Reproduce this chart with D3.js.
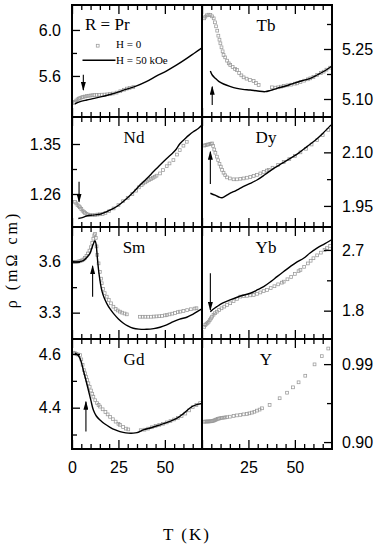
<!DOCTYPE html>
<html>
<head>
<meta charset="utf-8">
<script src="https://cdn.jsdelivr.net/npm/d3@7"></script>
<style>
  body { margin: 0; background: #fff; }
</style>
</head>
<body>
<div id="chart"></div>
<script>
'use strict';

// panel names, left column then right column, row by row
var panelNames = ['Pr', 'Tb', 'Nd', 'Dy', 'Sm', 'Yb', 'Gd', 'Y'];
var panelLabels = ['R = Pr', 'Tb', 'Nd', 'Dy', 'Sm', 'Yb', 'Gd', 'Y'];

var yDomains = [[5.243, 6.217], [5.046, 5.382], [1.2006, 1.3986], [1.891, 2.199],
  [3.145, 3.804], [1.38, 3.04], [4.246, 4.656], [0.892, 1.019]];
var majorTicks = [[5.6, 6.0], [5.10, 5.25], [1.26, 1.35], [1.95, 2.10],
  [3.3, 3.6], [1.8, 2.7], [4.4, 4.6], [0.90, 0.99]];
var minorTicks = [[5.8], [5.175, 5.325], [1.305], [2.025],
  [3.45], [2.25], [4.3, 4.5], [0.945]];
var tickFormats = ['.1f', '.2f', '.2f', '.2f', '.1f', '.1f', '.1f', '.2f'];

var tMajor = [0, 25, 50];
var tMinor = [5, 10, 15, 20, 30, 35, 40, 45, 55, 60, 65];
var tLabelsLeft = [0, 25, 50];
var tLabelsRight = [25, 50];

// H = 0 points and H = 50 kOe curves, [T (K), rho]
var prH0 = [[1.0, 5.365], [1.6, 5.374], [2.3, 5.386], [3, 5.396], [3.7, 5.403], [4.4, 5.408], [5.2, 5.413],
  [6, 5.417], [7, 5.421], [8, 5.425], [9, 5.428], [10, 5.43], [11, 5.432], [12, 5.434], [13.3, 5.435],
  [14.5, 5.436], [16, 5.437], [17.5, 5.438], [19, 5.44], [20.5, 5.443], [22, 5.447], [24, 5.455],
  [26, 5.467], [28, 5.48], [29.5, 5.49], [31, 5.496], [33, 5.503]];
var prH50 = [[1.6, 5.357], [4, 5.375], [7.9, 5.391], [12, 5.405], [16, 5.42], [20, 5.437], [24, 5.455],
  [29, 5.483], [34.8, 5.513], [40, 5.55], [45.6, 5.60], [51, 5.645], [56.4, 5.696], [62, 5.755],
  [66, 5.80], [70, 5.845]];

var tbH0 = [[1.2, 5.342], [1.8, 5.347], [2.6, 5.351], [3.5, 5.353], [4.5, 5.352], [5.4, 5.348], [6.3, 5.342],
  [7, 5.33], [7.6, 5.318], [8.2, 5.305], [8.8, 5.29], [9.4, 5.278], [9.9, 5.267], [10.5, 5.255],
  [11.1, 5.243], [11.6, 5.232], [12.5, 5.225], [13.5, 5.215], [14.4, 5.207], [15.2, 5.202],
  [16.5, 5.196], [17.8, 5.19], [18.8, 5.187], [20, 5.178], [21.2, 5.171], [22.4, 5.165], [24, 5.161],
  [25.8, 5.157], [27.8, 5.154], [29, 5.148], [30.5, 5.142], [37.7, 5.135], [39.5, 5.134], [41, 5.135],
  [42.5, 5.137], [44, 5.139], [46, 5.141], [48, 5.143], [50, 5.146], [51.2, 5.147], [53, 5.151],
  [55, 5.155], [57, 5.159], [58.3, 5.162], [60, 5.166], [62, 5.172], [64, 5.178], [65.5, 5.182],
  [67, 5.188], [69, 5.194]];
var tbH50 = [[4.5, 5.184], [5.5, 5.172], [7.2, 5.162], [9, 5.153], [11.6, 5.145], [15, 5.138], [18.8, 5.132],
  [22, 5.129], [26, 5.127], [30, 5.124], [34, 5.122], [37, 5.126], [40.4, 5.132], [45, 5.139],
  [49.3, 5.147], [54, 5.155], [58.3, 5.162], [62, 5.172], [66, 5.184], [70, 5.199]];

var ndH0 = [[1.6, 1.246], [2.3, 1.243], [3, 1.24], [3.7, 1.238], [4.3, 1.236], [5, 1.233], [5.7, 1.23],
  [6.4, 1.228], [7, 1.226], [7.8, 1.224], [8.7, 1.223], [9.7, 1.222], [11, 1.222], [12.4, 1.222],
  [13.7, 1.223], [15, 1.2235], [16.5, 1.224], [18, 1.226], [20, 1.229], [22.4, 1.234], [25, 1.24],
  [27.5, 1.247], [30, 1.253], [32.5, 1.26], [34.5, 1.266], [36, 1.272], [37.5, 1.276], [38.4, 1.279],
  [39.5, 1.281], [40.5, 1.283], [41.5, 1.285], [42.5, 1.287], [43.5, 1.289], [44.5, 1.291],
  [45.5, 1.293], [47.4, 1.297], [49, 1.303], [51, 1.31], [52.5, 1.315], [54.6, 1.321], [56.5, 1.331],
  [58, 1.339], [60, 1.347], [61.8, 1.354]];
var ndH50 = [[3.4, 1.216], [5, 1.217], [7.9, 1.2204], [11, 1.222], [15, 1.2235], [18.5, 1.228], [22.4, 1.234],
  [26, 1.242], [29.5, 1.252], [33, 1.263], [36.6, 1.276], [40, 1.287], [43.8, 1.300], [47, 1.311],
  [51, 1.324], [54, 1.333], [56, 1.340], [58.2, 1.351], [61, 1.36], [63, 1.366], [65.3, 1.372],
  [68, 1.378], [70, 1.384]];

var dyH0 = [[1.2, 2.119], [1.8, 2.12], [2.5, 2.121], [3.2, 2.122], [4, 2.123], [4.7, 2.124], [5.4, 2.125],
  [6, 2.118], [6.6, 2.108], [7.2, 2.099], [8, 2.088], [8.7, 2.078], [9.4, 2.068], [10.1, 2.06],
  [10.8, 2.051], [11.6, 2.043], [12.5, 2.036], [13.5, 2.03], [15, 2.027], [17, 2.0245], [18.8, 2.0245],
  [20.6, 2.026], [22.4, 2.027], [24.2, 2.029], [26, 2.031], [27.8, 2.034], [29.6, 2.037], [31.4, 2.041],
  [33.2, 2.045], [35, 2.049], [35.9, 2.051], [38, 2.057], [41, 2.065], [44, 2.073], [47, 2.081],
  [50, 2.09], [53, 2.1], [56, 2.11], [59, 2.122], [62, 2.134], [65, 2.148], [68, 2.163]];
var dyH50 = [[4.5, 1.9855], [7, 1.98], [9, 1.975], [10.8, 1.973], [13, 1.979], [15, 1.985], [17, 1.990],
  [20, 1.998], [23, 2.006], [26, 2.013], [29.6, 2.0226], [34, 2.038], [38.6, 2.055], [43, 2.069],
  [47.5, 2.083], [52, 2.098], [56.5, 2.116], [61, 2.134], [65, 2.153], [69.5, 2.177]];

var smH0 = [[0.8, 3.598], [1.5, 3.598], [2.2, 3.599], [3, 3.6], [3.8, 3.602], [4.6, 3.604], [5.4, 3.608],
  [6.2, 3.613], [7, 3.622], [7.8, 3.634], [8.6, 3.648], [9.4, 3.665], [10.2, 3.685], [10.9, 3.71],
  [11.5, 3.735], [12, 3.755], [12.4, 3.763], [12.8, 3.74], [13.2, 3.69], [13.6, 3.64], [14.3, 3.59],
  [15, 3.54], [15.6, 3.5], [16, 3.473], [16.8, 3.44], [17.6, 3.415], [18.7, 3.394], [19.8, 3.375],
  [21, 3.355], [22.3, 3.335], [23.5, 3.322], [24.6, 3.313], [25.8, 3.306], [27, 3.3], [28.3, 3.295],
  [29.5, 3.29], [36.6, 3.276], [38, 3.276], [39.5, 3.276], [41, 3.276], [42.5, 3.276], [44, 3.277],
  [45.5, 3.278], [47, 3.279], [48.5, 3.281], [50, 3.284], [51, 3.286], [52.5, 3.29], [54, 3.294],
  [55.5, 3.298], [57, 3.303], [58.2, 3.306], [60, 3.31], [62, 3.315], [64, 3.32], [66, 3.324], [67, 3.326]];
var smH50 = [[0.5, 3.60], [3, 3.599], [6.1, 3.606], [8, 3.625], [9.7, 3.649], [11, 3.69], [12.4, 3.724],
  [13, 3.70], [13.6, 3.63], [14.3, 3.551], [15.2, 3.48], [16, 3.433], [17.2, 3.39], [18.7, 3.355],
  [20.5, 3.322], [22.3, 3.296], [25, 3.263], [27.7, 3.238], [30, 3.222], [33, 3.208], [36, 3.203],
  [40.2, 3.202], [44, 3.206], [47.4, 3.214], [51, 3.228], [54.6, 3.247], [58, 3.262], [61.8, 3.273],
  [65, 3.29], [69, 3.316], [70, 3.322]];

var ybH0 = [[1.2, 1.56], [1.8, 1.588], [2.4, 1.605], [3, 1.62], [3.6, 1.637], [4.2, 1.66], [4.8, 1.685],
  [5.4, 1.711], [6.2, 1.74], [7, 1.762], [8, 1.785], [9.2, 1.81], [10.5, 1.835], [12, 1.86], [13.5, 1.885],
  [15.2, 1.91], [17, 1.94], [18.8, 1.975], [20.6, 2.008], [22.4, 2.015], [24.2, 2.02], [26, 2.027],
  [27.8, 2.033], [29.6, 2.05], [31.4, 2.07], [33.2, 2.09], [35, 2.107], [37, 2.135], [39, 2.162],
  [41, 2.19], [43, 2.215], [44, 2.23], [46, 2.265], [48, 2.3], [50, 2.345], [52, 2.385], [53, 2.404],
  [55, 2.45], [57, 2.5], [58.5, 2.54], [60, 2.577], [62, 2.62], [64, 2.66], [66, 2.7], [67.3, 2.726],
  [69, 2.76]];
var ybH50 = [[4.5, 1.785], [6, 1.82], [8, 1.859], [11, 1.91], [15.2, 1.959], [20, 2.01], [26, 2.058],
  [30, 2.11], [33.2, 2.156], [37, 2.23], [40.4, 2.304], [44, 2.38], [47.5, 2.453], [51, 2.52],
  [54.7, 2.577], [58, 2.65], [61.9, 2.726], [66, 2.79], [70, 2.855]];

var gdH0 = [[0.8, 4.605], [1.6, 4.603], [2.4, 4.6], [3.2, 4.598], [4.3, 4.596], [5, 4.58], [5.7, 4.56],
  [6.4, 4.54], [7, 4.528], [7.6, 4.515], [8.2, 4.503], [8.8, 4.491], [9.5, 4.478], [10.2, 4.464],
  [10.9, 4.452], [11.5, 4.441], [12.5, 4.428], [13.5, 4.417], [14.3, 4.41], [15.1, 4.404], [16.5, 4.394],
  [18, 4.384], [19.2, 4.375], [20.5, 4.366], [22, 4.357], [23.5, 4.348], [25, 4.34], [25.8, 4.336],
  [27.5, 4.328], [29, 4.322], [30.3, 4.319], [37, 4.316], [39, 4.318], [41, 4.322], [43, 4.327],
  [45, 4.332], [47, 4.336], [49, 4.34], [51, 4.345], [53, 4.35], [55, 4.356], [57, 4.362], [59, 4.369],
  [61, 4.378], [63, 4.39], [65, 4.402], [67, 4.41], [69, 4.417]];
var gdH50 = [[1.6, 4.603], [3, 4.597], [4.3, 4.584], [5.2, 4.565], [6.1, 4.540], [7.4, 4.505], [8.8, 4.466],
  [10.2, 4.426], [11.5, 4.391], [13, 4.37], [15.1, 4.354], [17.5, 4.34], [20.5, 4.327], [23, 4.318],
  [25.8, 4.311], [29, 4.306], [33, 4.305], [35, 4.307], [38.4, 4.317], [43, 4.326], [47.4, 4.336],
  [52, 4.347], [56.4, 4.360], [60, 4.378], [64.6, 4.404], [70, 4.416]];

var yH0 = [[1.2, 0.9235], [1.8, 0.9237], [2.4, 0.9237], [3, 0.9238], [3.6, 0.9238], [4.2, 0.9239],
  [4.8, 0.924], [5.4, 0.9242], [6, 0.9245], [6.6, 0.925], [7.2, 0.9256], [7.8, 0.9262], [8.5, 0.9268],
  [9.2, 0.9272], [9.9, 0.9276], [10.8, 0.928], [11.7, 0.9282], [12.6, 0.9285], [13.5, 0.9287],
  [15, 0.9293], [17, 0.9302], [18.8, 0.9308], [20.6, 0.9314], [22.4, 0.932], [24.2, 0.9325],
  [25.5, 0.9332], [26.9, 0.934], [28.2, 0.935], [29.6, 0.9363], [31, 0.9375], [32.3, 0.939],
  [36.4, 0.9429], [41.8, 0.9506], [45.8, 0.957], [49, 0.9632], [52, 0.969], [55.6, 0.9766],
  [60.6, 0.9897], [64.5, 0.9992], [68, 1.008]];
var yH50 = [];

// arrows: [T, rho at tail, rho at head]
var arrows = [[6.1, 5.61, 5.478], [5.5, 5.082, 5.137], [3.8, 1.282, 1.246], [4.5, 2.0115, 2.1017],
  [11.1, 3.394, 3.575], [4.5, 2.355, 1.81], [7.5, 4.311, 4.422], null];

var zeroField = [prH0, tbH0, ndH0, dyH0, smH0, ybH0, gdH0, yH0];
var highField = [prH50, tbH50, ndH50, dyH50, smH50, ybH50, gdH50, yH50];

var colX = [72, 202];
var rowY = [5, 117, 227, 339, 449];
var panelW = 130;
var ptSize = 2.8;
var serif = '"Liberation Serif", "Times New Roman", serif';
var sans = '"Liberation Sans", Arial, sans-serif';

var svg = d3.select('#chart').append('svg')
  .attr('width', 382)
  .attr('height', 549);

svg.append('defs').append('marker')
  .attr('id', 'arrowhead')
  .attr('markerUnits', 'userSpaceOnUse')
  .attr('markerWidth', 9)
  .attr('markerHeight', 5)
  .attr('refX', 8)
  .attr('refY', 2.5)
  .attr('orient', 'auto')
  .append('path')
  .attr('d', 'M0,0L9,2.5L0,5Z')
  .attr('fill', '#000');

function drawPanel(i) {
  var col = i % 2, row = Math.floor(i / 2);
  var top = rowY[row], bottom = rowY[row + 1];
  var h = bottom - top;

  var x = d3.scaleLinear().domain([0, 70]).range([0, panelW]);
  var y = d3.scaleLinear().domain(yDomains[i]).range([h, 0]);

  var g = svg.append('g')
    .attr('transform', 'translate(' + colX[col] + ',' + top + ')');

  g.append('clipPath').attr('id', 'clip' + i)
    .append('rect').attr('width', panelW).attr('height', h);

  var plot = g.append('g').attr('clip-path', 'url(#clip' + i + ')');

  // H = 0 : open squares
  plot.selectAll('rect.pt')
    .data(zeroField[i])
    .enter().append('rect')
    .attr('class', 'pt')
    .attr('x', function(d) { return x(d[0]) - ptSize / 2; })
    .attr('y', function(d) { return y(d[1]) - ptSize / 2; })
    .attr('width', ptSize)
    .attr('height', ptSize)
    .attr('fill', 'none')
    .attr('stroke', '#999')
    .attr('stroke-width', 0.75);

  // H = 50 kOe : solid line
  if (highField[i].length) {
    plot.append('path')
      .datum(highField[i])
      .attr('fill', 'none')
      .attr('stroke', '#000')
      .attr('stroke-width', 1.4)
      .attr('d', d3.line()
        .x(function(d) { return x(d[0]); })
        .y(function(d) { return y(d[1]); })
        .curve(d3.curveCatmullRom));
  }

  if (arrows[i]) {
    var a = arrows[i];
    g.append('line')
      .attr('x1', x(a[0])).attr('x2', x(a[0]))
      .attr('y1', y(a[1])).attr('y2', y(a[2]))
      .attr('stroke', '#000')
      .attr('stroke-width', 1.1)
      .attr('marker-end', 'url(#arrowhead)');
  }

  // T ticks, top pointing down and bottom pointing up
  [[tMajor, 9], [tMinor, 5]].forEach(function(t) {
    g.append('g')
      .call(d3.axisTop(x).tickValues(t[0]).tickSize(-t[1]).tickFormat(''))
      .call(function(s) { s.select('.domain').remove(); });
    g.append('g')
      .attr('transform', 'translate(0,' + h + ')')
      .call(d3.axisBottom(x).tickValues(t[0]).tickSize(-t[1]).tickFormat(''))
      .call(function(s) { s.select('.domain').remove(); });
  });

  // rho ticks on the outer side
  var fmt = d3.format(tickFormats[i]);
  var axisMaker = col === 0 ? d3.axisLeft : d3.axisRight;
  var yAxisPos = col === 0 ? 0 : panelW;
  g.append('g')
    .attr('transform', 'translate(' + yAxisPos + ',0)')
    .call(axisMaker(y).tickValues(majorTicks[i]).tickSize(-8).tickPadding(col === 0 ? 11 : 10).tickFormat(fmt))
    .call(function(s) { s.select('.domain').remove(); });
  g.append('g')
    .attr('transform', 'translate(' + yAxisPos + ',0)')
    .call(axisMaker(y).tickValues(minorTicks[i]).tickSize(-5).tickFormat(''))
    .call(function(s) { s.select('.domain').remove(); });

  // bottom row T labels
  if (row === 3) {
    g.append('g')
      .attr('transform', 'translate(0,' + h + ')')
      .call(d3.axisBottom(x).tickValues(col === 0 ? tLabelsLeft : tLabelsRight).tickSize(0).tickPadding(13))
      .call(function(s) { s.select('.domain').remove(); });
  }

  g.selectAll('.tick line').attr('stroke', '#000').attr('stroke-width', 1.3);
  g.selectAll('.tick text')
    .attr('fill', '#000')
    .attr('font-family', sans)
    .attr('font-size', 16);

  g.append('rect')
    .attr('width', panelW)
    .attr('height', h)
    .attr('fill', 'none')
    .attr('stroke', '#000')
    .attr('stroke-width', 2);

  if (i === 0) {
    appendLegend(g);
  } else {
    g.append('text')
      .attr('x', col === 0 ? 62 : 64)
      .attr('y', 26)
      .attr('text-anchor', 'middle')
      .attr('font-family', serif)
      .attr('font-size', 17)
      .attr('fill', '#000')
      .text(panelLabels[i]);
  }
}

function appendLegend(g) {
  g.append('text')
    .attr('x', 13)
    .attr('y', 25)
    .attr('font-family', serif)
    .attr('font-size', 17)
    .attr('fill', '#000')
    .text(panelLabels[0]);

  g.append('rect')
    .attr('x', 24.3)
    .attr('y', 39.3)
    .attr('width', ptSize)
    .attr('height', ptSize)
    .attr('fill', 'none')
    .attr('stroke', '#999')
    .attr('stroke-width', 0.75);
  g.append('text')
    .attr('x', 44)
    .attr('y', 42.5)
    .attr('font-family', serif)
    .attr('font-size', 11)
    .attr('fill', '#000')
    .text('H = 0');

  g.append('line')
    .attr('x1', 10.5).attr('x2', 43.5)
    .attr('y1', 55.3).attr('y2', 55.3)
    .attr('stroke', '#000')
    .attr('stroke-width', 1.4);
  g.append('text')
    .attr('x', 44)
    .attr('y', 58.5)
    .attr('font-family', serif)
    .attr('font-size', 11)
    .attr('fill', '#000')
    .text('H = 50 kOe');
}

for (var i = 0; i < panelNames.length; i++) drawPanel(i);

svg.append('text')
  .attr('transform', 'translate(17,259.5) rotate(-90)')
  .attr('text-anchor', 'middle')
  .attr('font-family', serif)
  .attr('font-size', 16)
  .attr('letter-spacing', 3)
  .attr('fill', '#000')
  .text('ρ (mΩ cm)');

svg.append('text')
  .attr('x', 187)
  .attr('y', 540)
  .attr('text-anchor', 'middle')
  .attr('font-family', serif)
  .attr('font-size', 17)
  .attr('letter-spacing', 2)
  .attr('fill', '#000')
  .text('T (K)');
</script>
</body>
</html>
